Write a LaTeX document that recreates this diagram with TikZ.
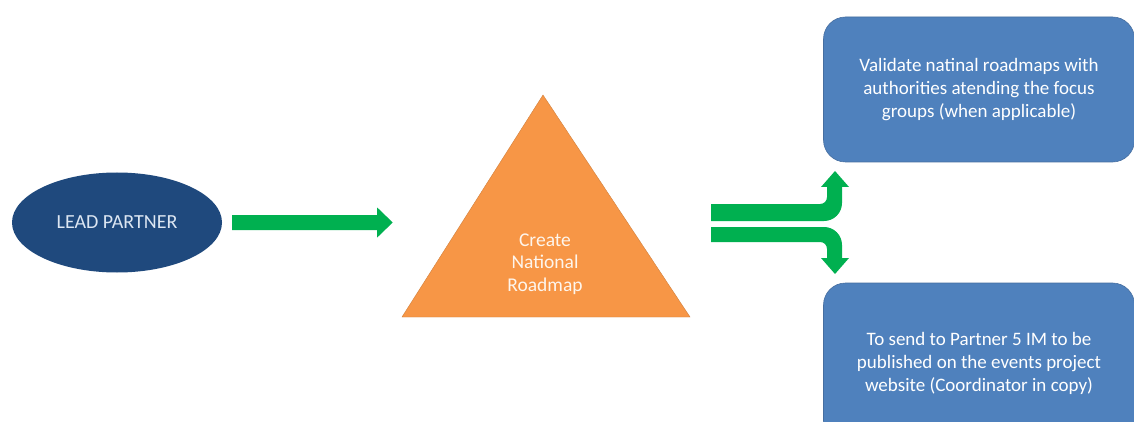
\documentclass[tikz,border=0pt]{standalone}
\usepackage{fontspec}
\setmainfont{Carlito}
\definecolor{leadblue}{RGB}{31,73,125}
\definecolor{boxblue}{RGB}{79,129,189}
\definecolor{boxedge}{RGB}{70,110,160}
\definecolor{triorange}{RGB}{247,150,70}
\definecolor{arrgreen}{RGB}{0,176,80}
\definecolor{leadtext}{RGB}{220,230,242}
\tikzset{
  leadnode/.style={ellipse, fill=leadblue, minimum width=210pt, minimum height=100pt, text=leadtext, font=\fontsize{20}{24}\selectfont},
  infobox/.style={rectangle, rounded corners=22pt, fill=boxblue, draw=boxedge, line width=0.6pt, minimum width=311pt, text=white, align=center, font=\fontsize{19}{23}\selectfont},
  trifill/.style={fill=triorange, draw=triorange!85!black, line width=0.4pt},
  tritext/.style={text=white!90!triorange, align=center, font=\fontsize{19.5}{22.5}\selectfont},
  blockarrow/.style={fill=arrgreen, draw=none}
}
\usetikzlibrary{shapes.geometric}
\begin{document}
\begin{tikzpicture}[x=1pt,y=-1pt]
\useasboundingbox (0,0) rectangle (1134,422);
\clip (0,0) rectangle (1134,422);
\fill[white] (0,0) rectangle (1134,422);
% lead partner
\node[leadnode] (lead) at (117,222.5) {LEAD PARTNER};
% triangle
\coordinate (apex) at (543,95);
\coordinate (bl) at (402,317);
\coordinate (br) at (690,317);
\draw[trifill] (apex) -- (bl) -- (br) -- cycle;
\node[tritext] (tri) at (545,264) {Create\\National\\Roadmap};
% boxes
\node[infobox, minimum height=145pt] (val) at (979,89.5) {\raisebox{-2pt}{\parbox{300pt}{\centering Validate natinal roadmaps with\\authorities atending the focus\\groups (when applicable)}}};
\node[infobox, minimum height=160pt] (send) at (979,363) {To send to Partner 5 IM to be\\published on the events project\\website (Coordinator in copy)};
% arrow 1
\coordinate (a1s) at ([xshift=10pt]lead.east);
\fill[blockarrow] (a1s) ++(0,-7.5) -- ++(145,0) -- ++(0,-7.5) -- ++(15.5,15) -- ++(-15.5,15) -- ++(0,-7.5) -- ++(-145,0) -- cycle;
% split arrow up
\fill[blockarrow] (711,204) -- (820,204) .. controls (824,204) and (827,201) .. (827,197)
  -- (827,187) -- (821,187) -- (835,171) -- (849,187) -- (842,187) -- (842,203)
  .. controls (842,213) and (834,221) .. (824,221) -- (711,221) -- cycle;
% split arrow down
\fill[blockarrow] (711,242) -- (820,242) .. controls (824,242) and (827,245) .. (827,249)
  -- (827,258) -- (821,258) -- (835,274) -- (849,258) -- (842,258) -- (842,245)
  .. controls (842,235) and (834,227) .. (824,227) -- (711,227) -- cycle;
\end{tikzpicture}
\end{document}
